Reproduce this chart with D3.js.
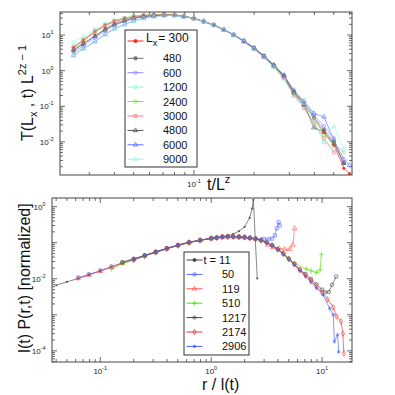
<!DOCTYPE html>
<html>
<head>
<meta charset="utf-8">
<script src="https://cdn.jsdelivr.net/npm/d3@7"></script>
<style>
  body { margin: 0; background: #fff; }
  svg { font-family: "Liberation Sans", Arial, sans-serif; }
</style>
</head>
<body>
<svg id="chart" width="395" height="395"></svg>
<script>
// ---------- top panel: T(Lx,t) L^(2z-1) vs t/L^z ----------
const tx = [0.025, 0.028, 0.032, 0.036, 0.040, 0.045, 0.050, 0.056, 0.063, 0.071, 0.080, 0.089, 0.100, 0.112,
  0.126, 0.141, 0.158, 0.178, 0.200, 0.224, 0.251, 0.282, 0.316, 0.355, 0.398, 0.447, 0.501, 0.562, 0.600];
const topLabels = ["300", "480", "600", "1200", "2400", "3000", "4800", "6000", "9000"];

const yL300  = [4.4, 7.0, 12.2, 18.5, 24, 29, 33, 35, 37, 38, 36.5, 34, 29, 24, 18.5, 14, 10, 6.5, 4.1, 2.4, 1.3, 0.65, 0.22, 0.11, 0.045, 0.018, 0.008, 0.0018, 0.00126];
const yL480  = [3.6, 5.6, 9.5, 15, 21, 26.5, 31, 34, 36, 37, 36.5, 33.5, 29.5, 24, 19, 14, 10.2, 6.8, 4.3, 2.6, 1.4, 0.7, 0.26, 0.126, 0.05, 0.022, 0.01, 0.0025, null];
const yL600  = [3.2, 5.0, 8.3, 13, 18.5, 24, 29, 32.5, 35, 36.5, 36, 33, 29, 23.5, 19, 14.2, 10.1, 6.7, 4.3, 2.5, 1.4, 0.72, 0.25, 0.12, 0.056, 0.028, 0.0126, null, null];
const yL1200 = [6.2, 9, 14.5, 20.5, 26, 30.5, 33.5, 36, 37.5, 38, 37, 34, 29.5, 24, 19, 14, 9.8, 6.4, 4.0, 2.4, 1.3, 0.6, 0.2, 0.1, 0.032, 0.01, 0.0063, null, null];
const yL2400 = [4.7, 7.6, 13, 19.5, 25, 30, 33.5, 36, 37.5, 38.5, 37, 34, 29.5, 24.5, 19, 14.2, 10, 6.6, 4.2, 2.5, 1.35, 0.72, 0.27, 0.11, 0.05, 0.016, 0.0089, 0.005, null];
const yL3000 = [4.5, 7.3, 12.8, 19, 24.5, 29.5, 33, 35.5, 37, 38, 37, 34, 29.5, 24, 18.8, 14, 9.9, 6.5, 4.1, 2.4, 1.3, 0.62, 0.2, 0.089, 0.035, 0.0126, 0.005, null, null];
const yL4800 = [3.9, 5.8, 9.2, 14, 19.5, 25, 29.5, 33, 35, 36.5, 36, 33.5, 29.5, 24, 19, 14.1, 10, 6.7, 4.2, 2.5, 1.4, 0.7, 0.24, 0.11, 0.025, 0.019, 0.0089, 0.0025, null];
const yL6000 = [2.7, 4.2, 6.6, 10.5, 15, 20, 25, 29.5, 33, 35.5, 35.5, 33, 29.5, 24.5, 19.3, 14.4, 10.3, 6.8, 4.4, 2.6, 1.45, 0.75, 0.28, 0.14, 0.063, 0.05, 0.011, 0.0032, 0.0022];
const yL9000 = [2.6, 4.0, 6.4, 10, 14.5, 19.5, 24.5, 29, 32.5, 35, 35.5, 33, 29.5, 24, 19, 14, 9.8, 6.3, 3.9, 2.3, 1.2, 0.55, 0.19, 0.126, 0.04, 0.01, 0.028, 0.0063, null];
const topValues = [yL300, yL480, yL600, yL1200, yL2400, yL3000, yL4800, yL6000, yL9000];

// ---------- bottom panel: l(t) P(r,t) vs r/l(t) ----------
const rx = [0.040, 0.050, 0.063, 0.079, 0.100, 0.126, 0.158, 0.200, 0.251, 0.316, 0.398, 0.501, 0.631, 0.794,
  1.00, 1.12, 1.26, 1.41, 1.58, 1.78, 2.00, 2.24, 2.51, 2.82, 3.16, 3.55, 3.98, 4.47, 5.01, 5.62, 6.31,
  7.08, 7.94, 8.91, 10.0, 11.2, 12.6, 14.1, 15.8];
const bottomLabels = ["11", "50", "119", "510", "1217", "2174", "2906"];

const pT11   = [0.0066, 0.0082, 0.0101, 0.0128, 0.0165, 0.0212, 0.0272, 0.0345, 0.0434, 0.055, 0.069, 0.086, 0.103, 0.118, 0.133, 0.140, 0.148, 0.158, 0.174, 0.209, 0.275];
const endT11 = [[2.22, 0.49], [2.34, 0.89], [2.40, 1.55], [2.60, 0.0102]];
const pT50   = [null, null, 0.0108, 0.0133, 0.0168, 0.0218, 0.0278, 0.0350, 0.0440, 0.056, 0.070, 0.086, 0.103, 0.118, 0.133, 0.139, 0.146, 0.149, 0.149, 0.146, 0.142, 0.136, 0.130];
const endT50 = [[3.0, 0.128], [3.3, 0.125], [3.55, 0.13], [3.75, 0.16], [3.9, 0.25], [4.05, 0.37], [4.15, 0.3]];
const pT119  = [null, null, 0.0102, 0.0127, 0.0163, 0.0209, 0.0270, 0.0342, 0.0432, 0.054, 0.068, 0.084, 0.101, 0.116, 0.131, 0.138, 0.145, 0.148, 0.148, 0.145, 0.141, 0.135, 0.129, 0.117];
const endT119 = [[3.24, 0.087], [3.6, 0.075], [4.1, 0.069], [4.6, 0.066], [5.1, 0.066], [5.45, 0.087], [5.65, 0.25]];
const pT510  = [null, null, null, null, null, 0.0186, 0.0258, 0.0335, 0.0425, 0.053, 0.067, 0.083, 0.100, 0.115, 0.130, 0.137, 0.144, 0.147, 0.147, 0.144, 0.140, 0.134, 0.128, 0.116, 0.101, 0.085, 0.066, 0.051, 0.037, 0.027];
const endT510 = [[7.2, 0.0186], [8.0, 0.0165], [8.9, 0.015], [9.6, 0.0175], [9.85, 0.048]];
const pT1217 = [null, null, null, null, null, null, 0.0290, 0.0355, 0.0445, 0.056, 0.070, 0.085, 0.102, 0.117, 0.132, 0.138, 0.145, 0.148, 0.148, 0.145, 0.141, 0.135, 0.129, 0.117, 0.102, 0.085, 0.066, 0.050, 0.036, 0.026, 0.018, 0.0135, 0.0098, 0.0070, 0.0050];
const endT1217 = [[10.6, 0.0042], [11.5, 0.0043], [12.3, 0.0068], [13.4, 0.0115]];
const pT2174 = [null, null, null, null, null, null, null, 0.0330, 0.0430, 0.054, 0.068, 0.084, 0.101, 0.116, 0.131, 0.137, 0.144, 0.147, 0.147, 0.144, 0.140, 0.134, 0.128, 0.116, 0.101, 0.084, 0.065, 0.049, 0.035, 0.025, 0.0175, 0.0125, 0.0088, 0.0061, 0.0041, 0.0027, 0.0016];
const endT2174 = [[13.5, 0.0009], [14.8, 0.00065], [15.4, 0.0003], [15.7, 0.000085]];
const pT2906 = [null, null, null, null, null, null, null, 0.0350, 0.0440, 0.055, 0.069, 0.085, 0.102, 0.117, 0.132, 0.138, 0.145, 0.148, 0.148, 0.145, 0.141, 0.135, 0.128, 0.116, 0.100, 0.083, 0.064, 0.048, 0.034, 0.024, 0.0165, 0.0115, 0.0080, 0.0055];
const endT2906 = [[10.2, 0.0036], [11.7, 0.0015], [12.6, 0.001], [12.9, 0.00018], [13.8, 0.00028], [14.1, 0.000093]];
const bottomValues = [pT11, pT50, pT119, pT510, pT1217, pT2174, pT2906];
const bottomEnds = [endT11, endT50, endT119, endT510, endT1217, endT2174, endT2906];

// ---------- styles ----------
const topColors = ["#ff2020", "#6e6e6e", "#8a8cff", "#8ff5e2", "#7fe04a", "#ff7c7c", "#555555", "#5e6cff", "#a2f2e6"];
const topSymbols = [d3.symbolCircle, d3.symbolSquare, d3.symbolCircle, d3.symbolSquare, d3.symbolCircle,
  d3.symbolSquare, d3.symbolTriangle, d3.symbolTriangle, d3.symbolTriangle];
const topFilled = [true, true, false, false, false, false, false, false, false];
const botColors = ["#444444", "#5b6bff", "#ff5555", "#55dd11", "#444444", "#f03030", "#4060ff"];
const botSymbols = [d3.symbolCircle, d3.symbolSquare, d3.symbolTriangle, d3.symbolPlus || d3.symbolCross,
  d3.symbolCircle, d3.symbolDiamond, d3.symbolAsterisk || d3.symbolStar];
const botFilled = [true, false, false, false, false, false, false];

const svg = d3.select("#chart");
const ink = "#444";

function sup(textSel, base, exp) {
  textSel.text(null);
  textSel.append("tspan").text(base);
  textSel.append("tspan").attr("dy", -4).attr("font-size", 5.5).text(exp);
}

function logTicks(scale) {
  const [a, b] = scale.domain().slice().sort((p, q) => p - q);
  const out = [];
  for (let e = Math.floor(Math.log10(a)); e <= Math.ceil(Math.log10(b)); e++) {
    for (let m = 1; m <= 9; m++) {
      const v = m * Math.pow(10, e);
      if (v >= a && v <= b) out.push({ v, major: m === 1, e });
    }
  }
  return out;
}

function panel(o) {
  const g = svg.append("g").attr("transform", `translate(${o.left},${o.top})`);
  const w = o.right - o.left, h = o.bottom - o.top;
  const x = d3.scaleLog().domain(o.xDomain).range([0, w]);
  const y = d3.scaleLog().domain(o.yDomain).range([h, 0]);

  const clipId = "clip" + o.top;
  g.append("clipPath").attr("id", clipId).append("rect").attr("width", w).attr("height", h);

  // ticks, inward on all four sides
  const xt = logTicks(x), yt = logTicks(y);
  const tk = g.append("g").attr("stroke", ink).attr("stroke-width", 0.8);
  xt.forEach(t => {
    const len = t.major ? 5 : 3, px = x(t.v);
    tk.append("line").attr("x1", px).attr("x2", px).attr("y1", h).attr("y2", h - len);
    tk.append("line").attr("x1", px).attr("x2", px).attr("y1", 0).attr("y2", len);
  });
  yt.forEach(t => {
    const len = t.major ? 5 : 3, py = y(t.v);
    tk.append("line").attr("x1", 0).attr("x2", len).attr("y1", py).attr("y2", py);
    tk.append("line").attr("x1", w).attr("x2", w - len).attr("y1", py).attr("y2", py);
  });

  xt.filter(t => t.major).forEach(t => {
    g.append("text").attr("x", x(t.v)).attr("y", h + o.xLabelGap).attr("text-anchor", "middle")
      .attr("font-size", 8).attr("fill", "#222").call(s => sup(s, "10", t.e < 0 ? "-" + (-t.e) : t.e));
  });
  yt.filter(t => t.major && o.yLabelEvery(t.e)).forEach(t => {
    g.append("text").attr("x", -6.5).attr("y", y(t.v) + 3).attr("text-anchor", "end")
      .attr("font-size", 8).attr("fill", "#222").call(s => sup(s, "10", t.e < 0 ? "-" + (-t.e) : t.e));
  });

  const plot = g.append("g").attr("clip-path", `url(#${clipId})`);
  const line = d3.line().x(d => x(d[0])).y(d => y(d[1]));
  o.series.forEach((pts, i) => {
    plot.append("path").datum(pts).attr("d", line).attr("fill", "none")
      .attr("stroke", o.colors[i]).attr("stroke-width", 0.8).attr("opacity", 0.8);
  });
  o.series.forEach((pts, i) => {
    const sym = d3.symbol().type(o.symbols[i]).size(o.symSize[i]);
    plot.append("g").selectAll("path").data(pts).join("path")
      .attr("transform", d => `translate(${x(d[0])},${y(d[1])})`)
      .attr("d", sym)
      .attr("fill", o.filled[i] ? o.colors[i] : "none")
      .attr("stroke", o.colors[i]).attr("stroke-width", 0.7).attr("opacity", 0.85);
  });

  g.append("rect").attr("width", w).attr("height", h).attr("fill", "none")
    .attr("stroke", ink).attr("stroke-width", 1);
  return g;
}

function legend(o) {
  const g = svg.append("g");
  g.append("rect").attr("x", o.x0).attr("y", o.y0).attr("width", o.x1 - o.x0).attr("height", o.y1 - o.y0)
    .attr("fill", "#fff").attr("stroke", "#333").attr("stroke-width", 1);
  o.labels.forEach((lab, i) => {
    const yy = o.rows[i];
    g.append("line").attr("x1", o.lx0).attr("x2", o.lx1).attr("y1", yy).attr("y2", yy)
      .attr("stroke", o.colors[i]).attr("stroke-width", 1);
    g.append("path").attr("transform", `translate(${(o.lx0 + o.lx1) / 2},${yy})`)
      .attr("d", d3.symbol().type(o.symbols[i]).size(8))
      .attr("fill", o.filled[i] ? o.colors[i] : "none").attr("stroke", o.colors[i]).attr("stroke-width", 0.8);
    if (i === 0) o.first(g, yy, lab);
    else g.append("text").attr("x", o.tx).attr("y", yy + 4).attr("font-size", 11).attr("fill", "#111").text(lab);
  });
}

const pairs = (xs, ys) => xs.map((v, i) => [v, ys[i]]).filter(d => d[1] != null);

// top panel
panel({
  left: 60, right: 352, top: 12, bottom: 175,
  xDomain: [0.0214, 0.617], yDomain: [0.00117, 44.4],
  xLabelGap: 11.5, yLabelEvery: () => true,
  series: topValues.map(v => pairs(tx, v)),
  colors: topColors, symbols: topSymbols, filled: topFilled,
  symSize: [5, 7, 9, 9, 9, 9, 9, 9, 9]
});

// bottom panel
panel({
  left: 52, right: 352, top: 198, bottom: 362,
  xDomain: [0.0367, 18.6], yDomain: [0.000049, 1.74],
  xLabelGap: 11.5, yLabelEvery: e => e % 2 === 0,
  series: bottomValues.map((v, i) => pairs(rx, v).concat(bottomEnds[i])),
  colors: botColors, symbols: botSymbols, filled: botFilled,
  symSize: [2, 10, 10, 10, 10, 9, 10]
});

legend({
  x0: 125, x1: 197, y0: 30, y1: 167, lx0: 127.5, lx1: 143.5, tx: 163,
  rows: [41, 58.3, 72.7, 87.1, 101.5, 116, 130.4, 144.8, 159.2],
  labels: topLabels, colors: topColors, symbols: topSymbols, filled: topFilled,
  first: (g, yy, lab) => {
    const t = g.append("text").attr("x", 146).attr("y", yy + 1).attr("font-size", 12).attr("fill", "#111");
    t.append("tspan").text("L");
    t.append("tspan").attr("dy", 4).attr("font-size", 9).text("x");
    t.append("tspan").attr("dy", -4).attr("dx", 1).text("= " + lab);
  }
});

legend({
  x0: 184, x1: 249, y0: 252, y1: 355, lx0: 186.5, lx1: 202.5, tx: 222,
  rows: [260, 274.4, 288.8, 303.2, 317.6, 332, 346.4],
  labels: bottomLabels, colors: botColors, symbols: botSymbols, filled: botFilled,
  first: (g, yy, lab) => {
    g.append("text").attr("x", 203.5).attr("y", yy + 4).attr("font-size", 11).attr("fill", "#111").text("t = " + lab);
  }
});

// axis titles
const ty = svg.append("text").attr("transform", "translate(33,93) rotate(-90)")
  .attr("text-anchor", "middle").attr("font-size", 16).attr("fill", "#111");
ty.append("tspan").text("T(L");
ty.append("tspan").attr("dy", 4).attr("font-size", 11).text("x");
ty.append("tspan").attr("dy", -4).text(" , t)  L");
ty.append("tspan").attr("dy", -7).attr("font-size", 11).text("2z \u2212 1");

const txl = svg.append("text").attr("x", 207).attr("y", 190).attr("font-size", 16).attr("fill", "#111");
txl.append("tspan").text("t/L");
txl.append("tspan").attr("dy", -7).attr("font-size", 11).text("z");

svg.append("text").attr("transform", "translate(30,278) rotate(-90)")
  .attr("text-anchor", "middle").attr("font-size", 16).attr("fill", "#111")
  .text("l(t)  P(r,t)  [normalized]");

svg.append("text").attr("x", 202).attr("y", 390).attr("font-size", 16).attr("fill", "#111")
  .text("r / l(t)");
</script>
</body>
</html>
